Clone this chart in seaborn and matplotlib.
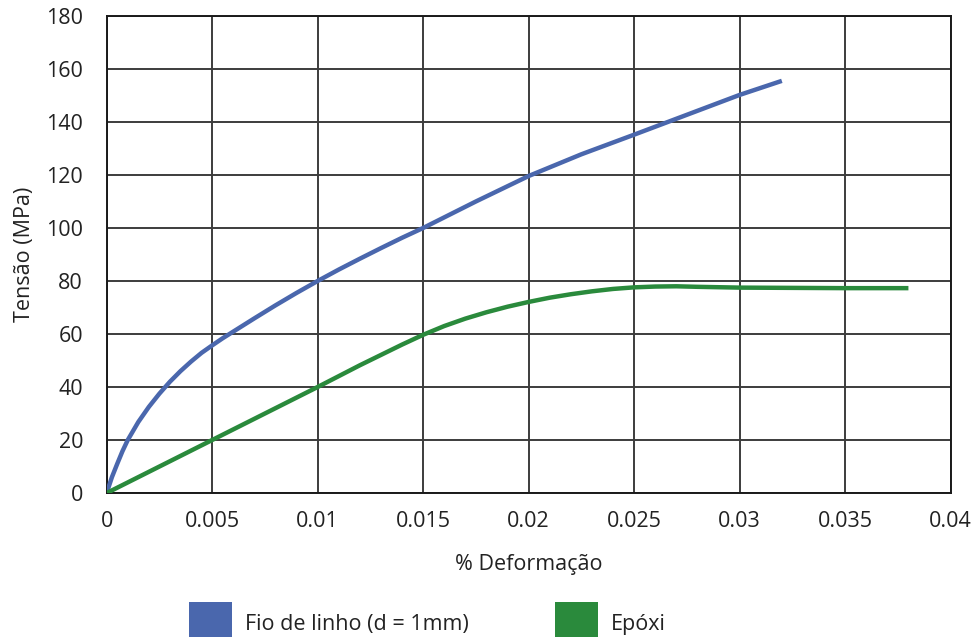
import matplotlib
matplotlib.use("Agg")
import matplotlib.pyplot as plt
from matplotlib.patches import Patch
import seaborn as sns
import pandas as pd

# Stress-strain readings for the linen thread
strain_fio = [0.0, 0.00025, 0.0005, 0.00075, 0.001, 0.0015, 0.002, 0.0025, 0.003,
              0.0035, 0.004, 0.0045, 0.005, 0.0055, 0.006, 0.007, 0.008, 0.009,
              0.01, 0.011, 0.012, 0.013, 0.014, 0.015, 0.0175, 0.02, 0.0225,
              0.025, 0.0275, 0.03, 0.032]
stress_fio = [0, 6, 11, 15.8, 20, 26.8, 32.5, 37.5, 42,
              46, 49.6, 52.9, 55.7, 58.4, 60.9, 65.9, 70.8, 75.5,
              80, 84.3, 88.4, 92.4, 96.3, 100, 110, 119.6, 127.8,
              135.2, 142.7, 150.2, 155.5]

# Stress-strain readings for the epoxy
strain_epoxi = [0.0, 0.005, 0.01, 0.012, 0.013, 0.014, 0.015, 0.016, 0.017,
                0.018, 0.019, 0.02, 0.021, 0.022, 0.023, 0.024, 0.025, 0.026,
                0.027, 0.028, 0.03, 0.035, 0.038]
stress_epoxi = [0, 20, 40, 48.2, 52.1, 56, 59.7, 63, 65.8,
                68.2, 70.3, 72.1, 73.7, 75, 76.1, 77, 77.6, 77.9,
                78, 77.8, 77.5, 77.3, 77.3]

series_names = ["Fio de linho (d = 1mm)", "Epóxi"]
series_colors = ["#4a67ad", "#2a8a3c"]

x_ticks = [0, 0.005, 0.01, 0.015, 0.02, 0.025, 0.03, 0.035, 0.04]
x_tick_labels = ["0", "0.005", "0.01", "0.015", "0.02", "0.025", "0.03", "0.035", "0.04"]
y_ticks = [0, 20, 40, 60, 80, 100, 120, 140, 160, 180]

df = pd.concat([
    pd.DataFrame({"strain": strain_fio, "stress": stress_fio, "material": series_names[0]}),
    pd.DataFrame({"strain": strain_epoxi, "stress": stress_epoxi, "material": series_names[1]}),
])

sns.set_theme(style="white")
plt.rcParams["font.family"] = ["Open Sans", "DejaVu Sans"]

fig = plt.figure(figsize=(9.74, 6.37), dpi=100)
ax = fig.add_axes([0.1095, 0.226, 0.8665, 0.749])

sns.lineplot(data=df, x="strain", y="stress", hue="material", sort=False,
             palette=dict(zip(series_names, series_colors)), linewidth=3.2,
             estimator=None, legend=False, ax=ax, zorder=3)
for line in ax.get_lines():
    line.set_solid_joinstyle("round")
    line.set_solid_capstyle("butt")

ax.set_xlim(0, 0.04)
ax.set_ylim(0, 180)
ax.set_xticks(x_ticks)
ax.set_xticklabels(x_tick_labels)
ax.set_yticks(y_ticks)
ax.grid(True, color="#3c3c3c", linewidth=1.4)
ax.set_axisbelow(True)
for sp in ax.spines.values():
    sp.set_color("#1a1a1a")
    sp.set_linewidth(1.4)
ax.tick_params(axis="both", length=0, labelsize=15.5, colors="#222222")
ax.tick_params(axis="x", pad=13)
ax.tick_params(axis="y", pad=17)

ax.set_xlabel("% Deformação", fontsize=15.5, color="#222222", labelpad=16)
ax.set_ylabel("Tensão (MPa)", fontsize=15.5, color="#222222", labelpad=8)

handles = [Patch(facecolor=c, edgecolor="none") for c in series_colors]
fig.legend(handles, series_names, loc="center left",
           bbox_to_anchor=(189 / 974, 1 - 624 / 637), ncol=2, frameon=False,
           fontsize=15.5, handlelength=2.0, handleheight=2.8, handletextpad=0.6,
           columnspacing=4.0, borderpad=0, borderaxespad=0,
           labelcolor="#222222")

fig.savefig("out.png", dpi=100, facecolor="white")
